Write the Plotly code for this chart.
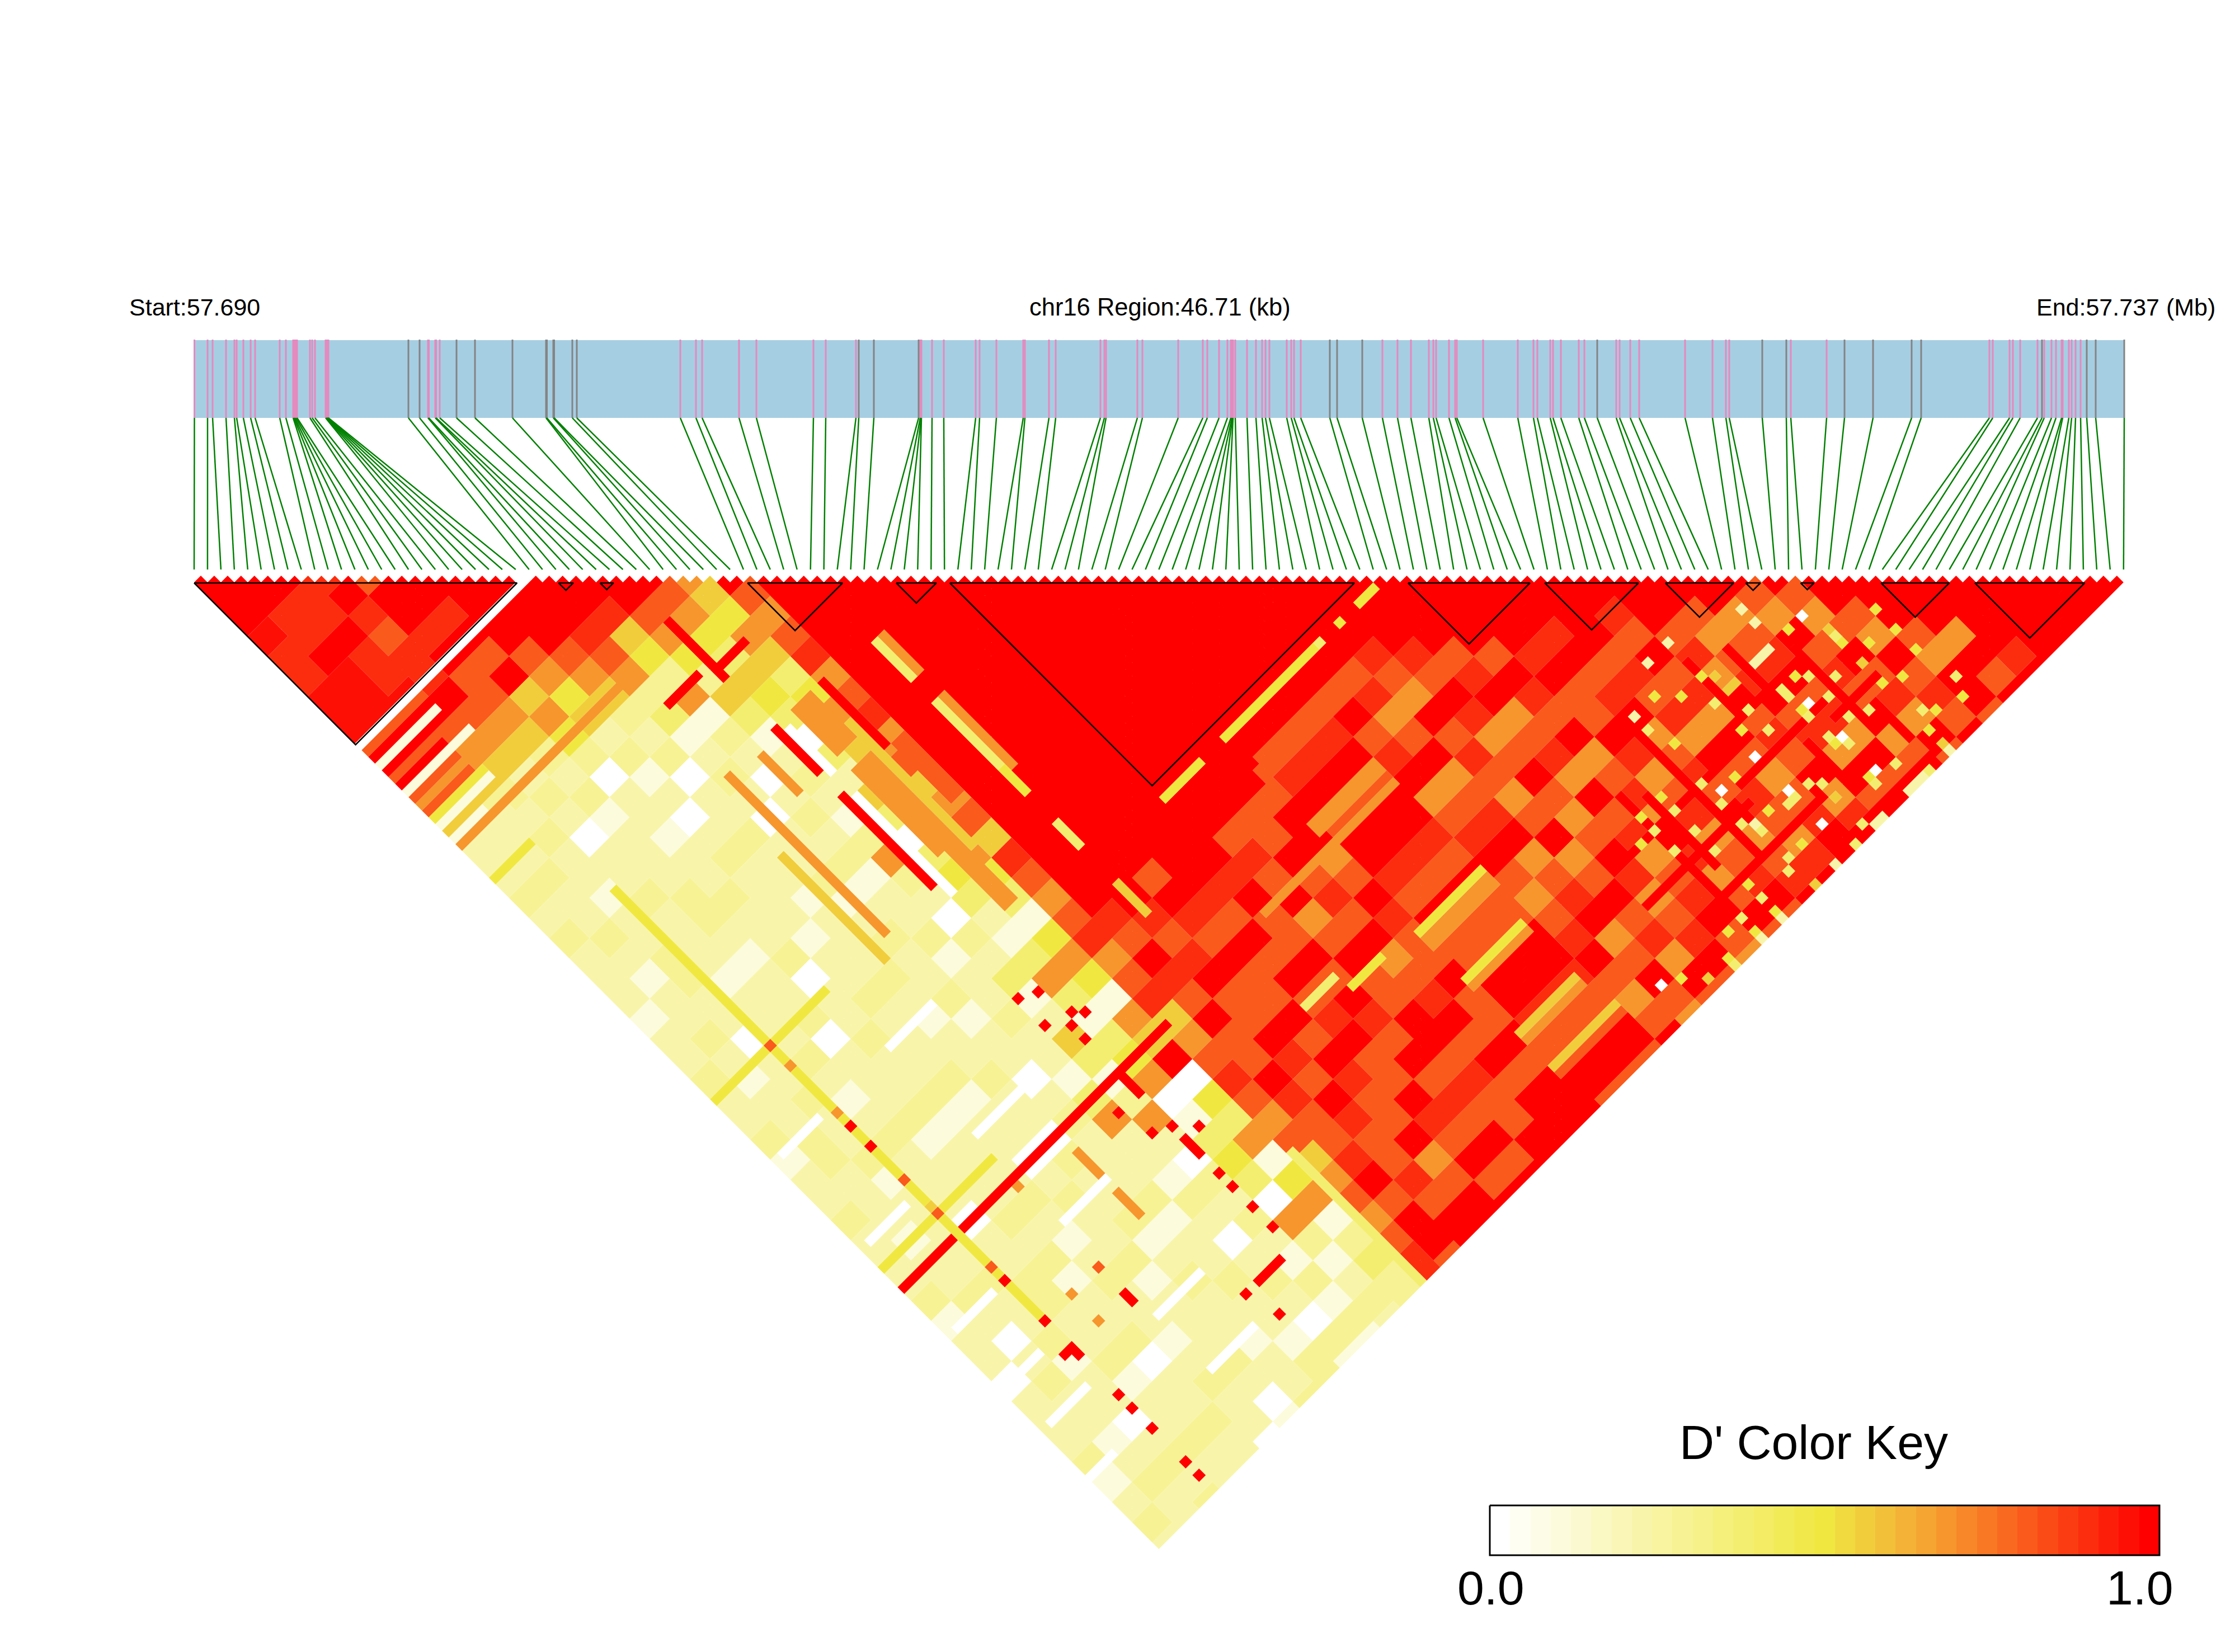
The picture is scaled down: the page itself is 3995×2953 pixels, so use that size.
import plotly.graph_objects as go

# ---------- data ----------
REGION_LABELS = ["Start:57.690", "chr16 Region:46.71 (kb)", "End:57.737 (Mb)"]
KEY_TITLE = "D' Color Key"
KEY_TICKS = ["0.0", "1.0"]

# SNP positions along the track (track units from the region start)
PINK_SNPS = [0.5,24,33,57,72,76,88,101,109,153,164,177,178.5,180,182,184,207,211,216,235,236,237,238,239,240,
 418,419.5,431,432.5,439,869,897,908,974,1005,1107,1129,1183,
 1298,1299.5,1300,1319,1340,1397,1404,1434,1482,1485,1528,1540,
 1620,1627,1630,1686,1695,1759,1803,1811,1832,1847,1853,1855,1856,1857,
 1861,1882,1898,1909,1915,1922,1953,1961,1966,1978,2124,2151,2175,2207,2215,2220,2243,2254,2257,2304,
 2366,2394,2401,2424,2429,2443,2475,2485,2542,2548,2567,2583,2665,2714,2738,2744,2854,2918,
 3209,3215,3245,3251,3264,3295,3307,3320,3328,3338,3340,3351,3356,3363,3372]
GREY_SNPS = [383,403,469,502,569,629,630.5,642,643.5,676,684,1188,1215,1295,2030,2043,2088,2508,2803,2846,2950,3001,3070,3087,3303,3383,3399,3450]

# LD blocks as (first, last) SNP index
BLOCKS = [(0,24.1),(27.2,28.3),(30.3,31.3),(41.3,48.4),(52.4,55.4),(56.4,86.6),(90.6,99.7),(100.8,107.8),
          (109.8,114.9),(115.8,116.9),(119.9,120.9),(125.9,131),(132.9,141.1)]

# D' classes, in colour-key steps (0..32)
LEVEL = {'.':0,'-':3,'p':7,'q':9,'l':12,'y':16,'g':18,'o':22,'f':26,'d':29,'e':31,'r':32}

# Estimated D' class for each 3-SNP by 3-SNP tile, row = first SNP group, starting on the diagonal
TILES = [
"rrreddeee"+"ofgoq"+"ppqpqppp-ppqppq-ppqpppq-pp.pppq-pqp",
"rrddreee"+"fofgq"+"ppqppqp-ppqp-ppqqppp-ppqp.pqpp-pqpp",
"rddrdde"+"rfogq"+"pqpp-ppqqpp.ppqppq-ppppqppq-pp.pqpq",
"drdfdd"+"rfogp"+"qp.ppqppp-pppqp-pqppp.ppqqppq-ppqpp",
"frrdr"+"ffogq"+"pq-pppqqp-ppq.pppq-pppqpq-ppq.ppqpp",
"rrdr"+"frgoy"+"q.pp-ppqppq.ppqppq-pppqp-pqpp-pqpp.",
"rrr"+"rfoyg"+"pq-p.pqppp-ppqpppq-pp.pqppq-pppqp.-",
"rr"+"rrfog"+"qpq.ppqpp-pppqp-ppqpp.qppq-pqpp-ppq",
"r"+"rrdfo"+"ql-pqp.ppq-pqppq-pp.pqpppq-ppqpp-qq",
"rrdgy"+"qo-qp.pqpq-ppq-ppqpp-lopp-qp.pqp.q-",
"rrfoy"+"qgl-pqp-qoqp.qpl-pgl-qop.qpqp-q-q-",
"rfo"+"ylgyl.lpgl.lylp-lol-lyo.-lyl.oq-pqp",
"og"+"yoglyogglyo-oyl-yoy-ogr.ylo-yo-qlq",
"rfofdofdofgofgdfofdofdgofdfofgofofd",
"rrrrrrrrrrrrrrrrrdfrdfrffrdffdrfrrf",
"rrrrrrrrrrrrrrrrrdfdrffrdfrdffdfrr",
"rrrrrrrrrrrrrrrfrdfrffrfrdffrofrr",
"rrrrrrrrrrrrrrrrdfrfrfdrffrdfrfr",
"rrrrrrrrrrrrrrrdrffrfrdfrfdfrfr",
"rrrrrrrrrrrrrfdfrofrffrrfdffrr",
"rrrrrrrrrrrrffrfdfrofdrfrfr",
"rrrrrrrrrrrfrrofrdffrffrfr",
"rrrrrrrrrfdrfrrdfrffrrdfrrf",
"rrrrrrrrfdrfrrdfrffrrdfrrf",
"rrrrrrrfdrfrrdfrffrrdfrrf",
"rrrrrrfrfdrofdrfofdrfofrr",
"rrrrrfdofrofdrofdrofrfor",
"rrrrdforfdfofrofrfdorfr",
"rrrrdfrdofrfofrdofdrf",
"rrrrfdrofdorfdofdrfo",
"rrrrfrdfrofdordofrf",
"rrrrdrffrdofdofdrf",
"rrrdrfdrofdfrofdo",
"rrrrfdfdorfdfodr",
"rrdfrfdorfofdrf",
"rrrfdorfdfrodf",
"rrfofdrfdorfd",
"rrofdrfdorfo",
"rforfdfrofr",
"rfofrfdorf",
"rrforfdfr",
"rrrforrf",
"rrrorfr",
"rrrrdr",
"rrrrr","rrrr","rrr","rr","r"]

# Runs with one SNP fixed: (snp, from, to, class)
COLUMN_RUNS = [(25,0,24,'.'),(26,0,8,'f'),(27,0,10,'r'),(28,0,8,'-'),(29,0,10,'r'),(30,0,6,'f'),(31,0,6,'r'),
 (32,0,9,'-'),(33,0,6,'f'),(34,0,8,'o'),(35,0,6,'f'),(36,0,7,'y'),(37,0,7,'-'),(38,0,7,'g'),(39,0,4,'-'),
 (40,0,23,'o'),(41,0,6,'p'),(45,26,30,'r'),(46,33,36,'r'),(45,0,5,'y'),(78,0,16,'y'),(103,0,16,'y'),
 (87,1,6,'.'),(87,17,23,'.'),(100,1,6,'.'),(100,17,23,'.'),(113,1,6,'.'),(113,17,23,'.'),(127,1,6,'.'),(127,17,23,'.'),
 (135,17,23,'.'),(134,0,3,'.'),(121,1,5,'.'),
 (106,0,39,'r'),(132,27,30,'r'),
 (89,56,61,'y'),(89,65,78,'y'),(89,79,79,'l'),(89,82,82,'y'),(89,85,87,'y'),
 (94,65,74,'f'),(95,65,74,'f'),(102,65,74,'o'),(103,65,74,'o'),(105,55,62,'o'),(105,65,74,'o'),
 (118,65,74,'y'),(119,65,74,'o'),(120,65,74,'o'),(125,65,73,'y'),(126,65,73,'o'),(133,65,73,'g'),(134,65,73,'o'),
 (138,65,74,'g'),(139,65,74,'f'),(117,56,60,'y'),(115,51,55,'l'),
 (128,86,103,'r'),(133,84,99,'r'),(138,89,105,'r'),(144,96,112,'r'),(143,105,117,'r'),(131,100,114,'r'),(126,101,110,'r'),(133,112,118,'r')]
ROW_RUNS = [(8,55,118,'y'),(23,65,80,'g'),(25,55,78,'o'),(29,56,61,'o'),(32,39,47,'r'),(32,55,61,'r'),(32,65,78,'r'),
 (33,56,62,'.'),(33,66,80,'.'),(35,55,61,'o'),(36,55,61,'o'),(37,55,61,'o'),(35,64,76,'o'),(36,64,85,'o'),(37,64,85,'o'),
 (38,65,78,'g'),(39,55,64,'r'),(39,125,144,'l'),(40,65,73,'f'),(41,65,73,'f'),(46,56,61,'l'),(46,65,74,'l'),(46,75,78,'y'),(46,83,86,'l'),
 (46,92,96,'g'),(47,56,61,'o'),(47,65,75,'o'),(23,109,112,'o'),(23,115,118,'o'),(32,106,109,'r'),(32,116,118,'r'),
 (96,120,138,'r'),(114,124,134,'r'),(116,135,140,'r'),(105,118,124,'r'),(109,120,126,'r'),(108,133,137,'r'),(92,125,135,'r'),(90,123,140,'r')]

# Single pairs: (snp a, snp b, class)
PAIRS = [(113,118,'p'),(113,120,'p'),(117,123,'.'),(115,123,'y'),(112,123,'p'),(111,123,'p'),(110,123,'p'),(105,115,'p'),(102,115,'p'),
(105,120,'y'),(106,121,'g'),(107,123,'g'),(106,123,'g'),(112,127,'y'),(113,128,'l'),(115,130,'l'),(110,127,'l'),(110,128,'l'),(113,131,'l'),
(111,130,'.'),(110,130,'y'),(110,131,'l'),(118,126,'g'),(118,127,'l'),(118,128,'y'),(120,130,'y'),(118,131,'g'),(123,128,'y'),(123,131,'y'),
(123,134,'y'),(118,134,'y'),(120,135,'y'),(115,135,'l'),(113,134,'l'),(119,139,'l'),(120,140,'y'),(118,141,'y'),(124,139,'l'),(123,141,'y'),
(100,118,'y'),(102,120,'y'),(104,123,'l'),(106,126,'l'),(106,129,'l'),(104,127,'y'),(97,118,'p'),(97,120,'l'),(98,123,'y'),(110,135,'y'),
(110,134,'l'),(111,135,'.'),(111,136,'l'),(118,144,'p'),(118,143,'g'),(103,130,'.'),(113,141,'l'),(111,140,'.'),(110,140,'y'),(110,141,'l'),
(115,144,'l'),(114,144,'p'),(113,144,'p'),(112,144,'p'),(97,128,'l'),(98,130,'.'),(97,131,'l'),(100,130,'y'),(93,126,'y'),(93,128,'l'),
(103,135,'.'),(103,136,'l'),(102,136,'l'),(100,135,'y'),(105,136,'l'),(106,137,'l'),(106,139,'g'),(90,126,'y'),(90,128,'l'),(93,131,'l'),
(88,128,'y'),(90,131,'l'),(93,134,'l'),(98,135,'p'),(98,136,'l'),(97,134,'l'),(103,140,'.'),(100,140,'y'),(98,140,'l'),(97,141,'l'),
(101,144,'p'),(104,144,'l'),(106,143,'l'),(108,144,'p'),(107,144,'p'),(93,139,'y'),(93,141,'l'),(93,143,'y'),(93,144,'p'),(98,144,'g'),
(88,141,'y'),(90,141,'l'),(90,143,'y'),(90,144,'p'),(86,144,'l'),(86,143,'y'),(83,143,'g'),(79,140,'.'),(81,141,'y'),
(8,90,'r'),(8,93,'r'),(8,113,'r'),(8,119,'r'),(7,123,'r'),(8,123,'r'),(8,124,'r'),(8,130,'r'),(8,132,'r'),(8,135,'r'),(8,140,'r'),(8,142,'r'),
(16,123,'r'),(16,124,'r'),(30,97,'r'),(32,99,'r'),(32,101,'r'),(32,94,'r'),(30,93,'r'),(34,99,'r'),(33,98,'r'),(29,109,'r'),(30,113,'r'),
(32,114,'r'),(34,116,'r'),(32,121,'r'),(32,123,'r'),(32,126,'r'),(32,129,'r'),(25,132,'r'),(26,136,'r'),
(8,78,'f'),(8,81,'o'),(8,88,'o'),(8,98,'f'),(8,103,'f'),(8,102,'g'),(8,111,'f'),(16,119,'f'),(12,119,'o'),(12,123,'o'),(16,107,'o')]

# colour key anchors (step, r, g, b)
KEY_ANCHORS = [(0,255,255,255),(16,240,232,64),(17,240,218,64),(21,245,165,50),(32,255,0,0)]

# ---------- build ----------
N = len(PINK_SNPS) + len(GREY_SNPS)
TRACK_X0, TRACK_X1, STEP, HALF_H = 347.0, 3796.0, 23.95, 12.0
TOP_Y = 1041.0

def key_colour(k):
    for (a, *c0), (b, *c1) in zip(KEY_ANCHORS, KEY_ANCHORS[1:]):
        if a <= k <= b:
            t = (k - a) / (b - a)
            return "rgb(%d,%d,%d)" % tuple(round(u + (v - u) * t) for u, v in zip(c0, c1))

levels = {}
for i in range(N):
    for j in range(i + 1, N):
        a, b = i // 3, j // 3
        row = TILES[a]
        ch = row[min(b - a, len(row) - 1)]
        levels[(i, j)] = LEVEL[ch]
for j, i0, i1, c in COLUMN_RUNS:
    for i in range(i0, i1 + 1):
        if i < j:
            levels[(i, j)] = LEVEL[c]
for i, j0, j1, c in ROW_RUNS:
    for j in range(j0, j1 + 1):
        if i < j < N:
            levels[(i, j)] = LEVEL[c]
for i, j, c in PAIRS:
    levels[(i, j)] = LEVEL[c]

polys = {}
for (i, j), lv in levels.items():
    cx = TRACK_X0 + (i + j) * STEP / 2
    cy = TOP_Y + (j - i - 1) * HALF_H
    xs, ys = polys.setdefault(lv, ([], []))
    xs += [cx - STEP / 2, cx, cx + STEP / 2, cx, cx - STEP / 2, None]
    ys += [cy, cy - HALF_H, cy, cy + HALF_H, cy, None]

fig = go.Figure()
# track
BAR_TOP, BAR_BOT, LINK_BOT = 608, 747, 1018
fig.add_trace(go.Scatter(x=[TRACK_X0 - 1, TRACK_X1 + 1, TRACK_X1 + 1, TRACK_X0 - 1, TRACK_X0 - 1],
                         y=[BAR_TOP, BAR_TOP, BAR_BOT, BAR_BOT, BAR_TOP], mode="lines", fill="toself",
                         fillcolor="#A6CEE3", line=dict(width=0), hoverinfo="skip"))
for snps, col in ((PINK_SNPS, "#E589BE"), (GREY_SNPS, "#848484")):
    xs, ys = [], []
    for p in snps:
        xs += [TRACK_X0 + p, TRACK_X0 + p, None]
        ys += [BAR_TOP - 1, BAR_BOT, None]
    fig.add_trace(go.Scatter(x=xs, y=ys, mode="lines", line=dict(color=col, width=3), hoverinfo="skip"))
order = sorted(PINK_SNPS + GREY_SNPS)
xs, ys = [], []
for k, p in enumerate(order):
    xs += [TRACK_X0 + p, TRACK_X0 + k * STEP, None]
    ys += [BAR_BOT, LINK_BOT, None]
fig.add_trace(go.Scatter(x=xs, y=ys, mode="lines", line=dict(color="#008000", width=2.5), hoverinfo="skip"))
# matrix
for lv in sorted(polys):
    xs, ys = polys[lv]
    fig.add_trace(go.Scatter(x=xs, y=ys, mode="lines", fill="toself", fillcolor=key_colour(lv),
                             line=dict(width=0), hoverinfo="skip"))
# blocks
xs, ys = [], []
for a, b in BLOCKS:
    xl, xr = TRACK_X0 + a * STEP, TRACK_X0 + b * STEP
    xs += [xl, xr, (xl + xr) / 2, xl, None]
    ys += [TOP_Y + 1, TOP_Y + 1, TOP_Y + 1 + (b - a) * HALF_H, TOP_Y + 1, None]
fig.add_trace(go.Scatter(x=xs, y=ys, mode="lines", line=dict(color="black", width=2.5), hoverinfo="skip"))
# colour key
KX0, KX1, KY0, KY1 = 2663, 3860, 2691, 2780
cw = (KX1 - KX0) / 33
fig.add_trace(go.Heatmap(z=[list(range(33))], x0=KX0 + cw / 2, dx=cw, y0=(KY0 + KY1) / 2, dy=KY1 - KY0,
                         zmin=0, zmax=32, showscale=False, hoverinfo="skip",
                         colorscale=[[k / 32, key_colour(k)] for k in range(33)]))
fig.add_trace(go.Scatter(x=[KX0, KX1, KX1, KX0, KX0], y=[KY0, KY0, KY1, KY1, KY0], mode="lines",
                         line=dict(color="black", width=3), hoverinfo="skip"))

FONT = "Liberation Sans, Arial, sans-serif"
def label(x, y, text, size, anchor="center"):
    fig.add_annotation(x=x, y=y, text=text, showarrow=False, xanchor=anchor, yanchor="middle",
                       font=dict(family=FONT, size=size, color="black"))
label(229, 549, REGION_LABELS[0], 43, "left")
label(2073, 549, REGION_LABELS[1], 43.5)
label(3962, 549, REGION_LABELS[2], 43, "right")
label(3242, 2578, KEY_TITLE, 86)
label(2665, 2838, KEY_TICKS[0], 86)
label(3825, 2838, KEY_TICKS[1], 86)

fig.update_layout(width=3995, height=2953, margin=dict(l=0, r=0, t=0, b=0), showlegend=False,
                  paper_bgcolor="white", plot_bgcolor="white",
                  xaxis=dict(range=[0, 3995], visible=False, fixedrange=True),
                  yaxis=dict(range=[2953, 0], visible=False, fixedrange=True))
fig.write_html("out.html", post_script="document.body.style.margin='0';", config=dict(displayModeBar=False))
